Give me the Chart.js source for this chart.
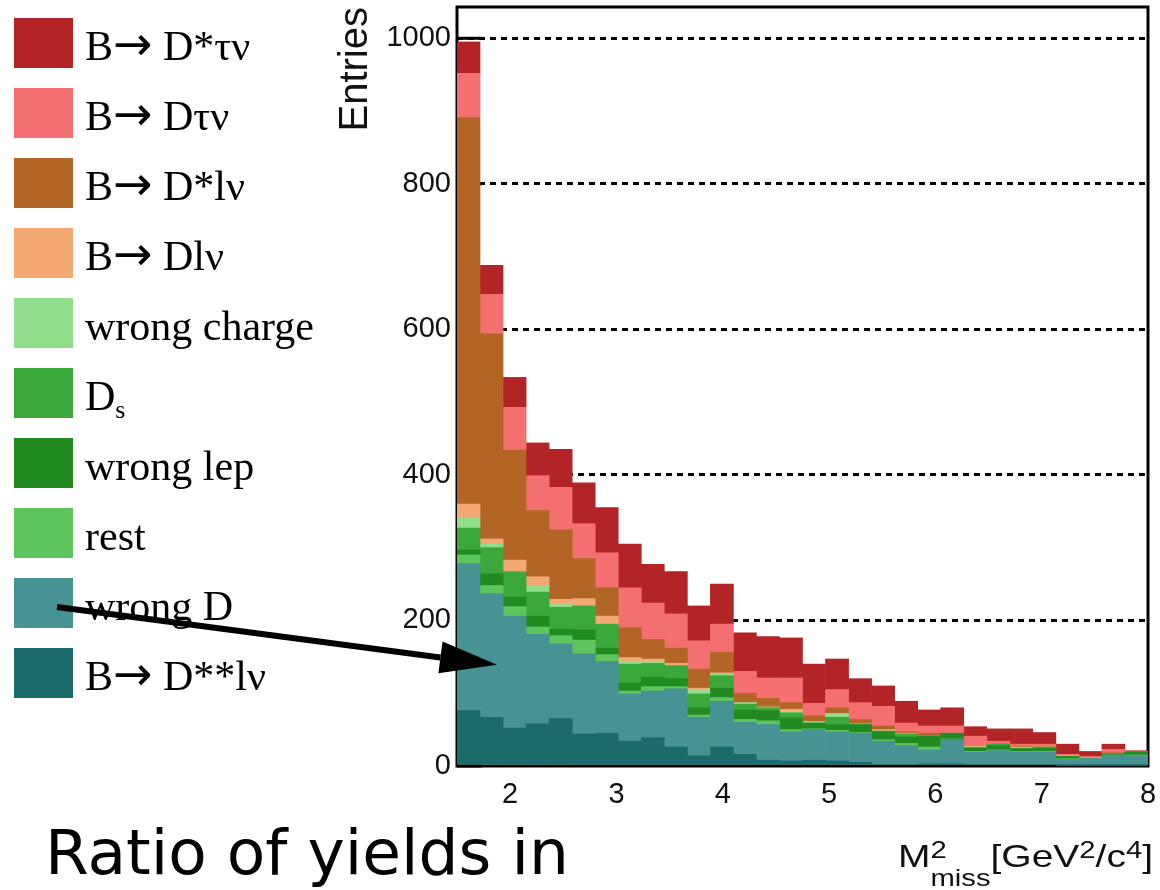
<!DOCTYPE html>
<html>
<head>
<meta charset="utf-8">
<script src="https://cdn.jsdelivr.net/npm/chart.js@4.4.1/dist/chart.umd.min.js"></script>
<style>
body { margin: 0; background: #fff; }
</style>
</head>
<body>
<canvas id="canvas" width="1160" height="890"></canvas>
<script>
// M2miss histogram, 30 bins between 1.5 and 8 GeV2/c4 (bin centres)
const binCenters = [1.6083, 1.8250, 2.0417, 2.2583, 2.4750, 2.6917, 2.9083, 3.1250, 3.3417, 3.5583,
                    3.7750, 3.9917, 4.2083, 4.4250, 4.6417, 4.8583, 5.0750, 5.2917, 5.5083, 5.7250,
                    5.9417, 6.1583, 6.3750, 6.5917, 6.8083, 7.0250, 7.2417, 7.4583, 7.6750, 7.8917];
const xTicks = [2, 3, 4, 5, 6, 7, 8];
const yTicks = [0, 200, 400, 600, 800, 1000];

// entries per bin, one array per component (bottom of the stack first)
const dssLnu      = [76, 67, 52, 58, 65, 44, 45, 34, 39, 26, 14, 26, 16, 8, 7, 8, 7, 5, 2, 2, 3, 3, 2, 2, 2, 2, 1, 1, 1, 1];
const wrongD      = [202, 170, 154, 123, 103, 110, 99, 65, 64, 80, 53, 63, 44, 49, 40, 42, 40, 40, 32, 26, 19, 34, 17, 19, 17, 17, 8, 9, 14, 13];
const rest        = [12, 11, 13, 10, 11, 19, 9, 4, 6, 3, 3, 5, 4, 5, 3, 1, 2, 1, 2, 3, 4, 0, 1, 1, 1, 1, 1, 0, 0, 1];
const wrongLep    = [7, 16, 13, 15, 9, 14, 9, 11, 13, 11, 10, 13, 13, 14, 16, 8, 8, 11, 11, 9, 15, 8, 5, 6, 4, 5, 3, 0, 1, 4];
const ds          = [30, 36, 35, 33, 30, 33, 33, 26, 19, 18, 19, 17, 8, 4, 7, 0, 10, 0, 1, 4, 0, 0, 0, 2, 0, 0, 0, 0, 0, 0];
const wrongCharge = [14, 5, 0, 9, 4, 0, 0, 4, 2, 0, 6, 3, 2, 1, 2, 2, 5, 0, 0, 0, 0, 0, 1, 0, 1, 1, 1, 1, 0, 0];
const dLnu        = [19, 7, 16, 12, 7, 10, 11, 5, 4, 3, 2, 1, 0, 0, 3, 0, 0, 1, 2, 1, 0, 0, 1, 0, 1, 0, 0, 0, 0, 0];
const dstLnu      = [531, 282, 151, 91, 96, 55, 39, 41, 27, 21, 26, 28, 13, 12, 9, 8, 8, 6, 5, 2, 4, 0, 0, 1, 1, 1, 0, 0, 2, 0];
const dTauNu      = [61, 54, 59, 48, 58, 48, 48, 55, 50, 47, 39, 39, 30, 28, 34, 17, 25, 23, 27, 12, 10, 10, 14, 3, 3, 3, 2, 2, 5, 0];
const dstTauNu    = [43, 40, 41, 45, 52, 56, 62, 60, 53, 58, 48, 55, 53, 57, 55, 54, 42, 33, 28, 30, 22, 25, 13, 17, 21, 16, 14, 7, 7, 2];

const components = [
    {label: 'B\u2192 D**l\u03bd', color: '#1a6b6a', data: dssLnu},
    {label: 'wrong D', color: '#479292', data: wrongD},
    {label: 'rest', color: '#5ec55e', data: rest},
    {label: 'wrong lep', color: '#218b21', data: wrongLep},
    {label: 'D_{s}', color: '#3aa83a', data: ds},
    {label: 'wrong charge', color: '#90dd8c', data: wrongCharge},
    {label: 'B\u2192 Dl\u03bd', color: '#f4a972', data: dLnu},
    {label: 'B\u2192 D*l\u03bd', color: '#b36526', data: dstLnu},
    {label: 'B\u2192 D\u03c4\u03bd', color: '#f47070', data: dTauNu},
    {label: 'B\u2192 D*\u03c4\u03bd', color: '#b22426', data: dstTauNu}
];

// split "M^{2}_{miss}" style strings into plain / super / sub pieces,
// the arrow gets its own piece so it can use a font with a long arrow
function latexParts(text){
    var parts = [];
    var re = /([_^])\{([^}]*)\}|(\u2192)|([^_^\u2192]+)/g;
    var m;
    while ((m = re.exec(text)) !== null){
        if (m[3] !== undefined) parts.push({t: m[3], k: 'arrow'});
        else if (m[4] !== undefined) parts.push({t: m[4], k: ''});
        else parts.push({t: m[2], k: m[1]});
    }
    return parts;
}

function drawLatex(ctx, text, x, y, o){
    var parts = latexParts(text);
    var items = [];
    var w = 0;
    for (var p of parts){
        var size = o.size;
        var family = o.family;
        if (p.k == '_') size = o.size * o.subScale;
        if (p.k == '^') size = o.size * o.supScale;
        if (p.k == 'arrow'){
            family = 'DejaVu Sans';
            size = o.size * 1.12;
        }
        ctx.font = size + 'px "' + family + '"';
        var pw = ctx.measureText(p.t).width;
        var dy = 0;
        if (p.k == '_') dy = o.drop * o.size;
        if (p.k == '^') dy = -o.raise * o.size;
        var prev = items[items.length - 1];
        if (p.k == '_' && prev && prev.k == '^'){
            // subscript stacked under the superscript before it
            items.push({t: p.t, k: p.k, size: size, family: family, x: prev.x, dy: dy});
            w = Math.max(w, prev.x + pw);
        } else {
            items.push({t: p.t, k: p.k, size: size, family: family, x: w, dy: dy});
            w += pw;
        }
    }
    var stretch = o.width ? o.width / w : 1;
    var x0 = o.align == 'right' ? x - w * stretch : x;
    ctx.save();
    ctx.translate(x0, y);
    ctx.scale(stretch, 1);
    ctx.textAlign = 'left';
    ctx.textBaseline = 'alphabetic';
    for (var it of items){
        ctx.font = it.size + 'px "' + it.family + '"';
        ctx.fillText(it.t, it.x, it.dy);
    }
    ctx.restore();
}

// frame and inner tick marks, underneath the histogram
const framePlugin = {
    id: 'frame',
    beforeDatasetsDraw(chart){
        const ctx = chart.ctx;
        const a = chart.chartArea;
        const y = chart.scales.y;
        ctx.save();
        ctx.strokeStyle = '#000';
        ctx.lineWidth = 3;
        ctx.strokeRect(a.left, a.top, a.right - a.left, a.bottom - a.top);
        for (const v of yTicks){
            const py = y.getPixelForValue(v);
            ctx.beginPath();
            ctx.moveTo(a.left, py);
            ctx.lineTo(a.left + 25, py);
            ctx.stroke();
        }
        ctx.restore();
    }
};

// legend on the left, arrow, axis title and caption
const annotPlugin = {
    id: 'annot',
    afterDraw(chart){
        const ctx = chart.ctx;
        const sets = chart.data.datasets.slice().reverse();
        ctx.save();
        sets.forEach((d, k) => {
            const top = 18 + 70 * k;
            ctx.fillStyle = d.backgroundColor;
            ctx.fillRect(14, top, 59, 50);
            ctx.fillStyle = '#000';
            drawLatex(ctx, d.label, 85, top + 42, {size: 42, family: 'Liberation Serif', subScale: 0.62, supScale: 0.62, drop: 0.2, raise: 0.4});
        });

        // arrow from the "wrong D" box into the histogram
        const k = sets.findIndex(d => d.label == 'wrong D');
        const sx = 57, sy = 18 + 70 * k + 29;
        const tx = chart.scales.x.getPixelForValue(1.876);
        const ty = chart.scales.y.getPixelForValue(139);
        const len = Math.hypot(tx - sx, ty - sy);
        const ux = (tx - sx) / len, uy = (ty - sy) / len;
        const bx = tx - 57 * ux, by = ty - 57 * uy;
        ctx.strokeStyle = '#000';
        ctx.fillStyle = '#000';
        ctx.lineWidth = 6;
        ctx.beginPath();
        ctx.moveTo(sx, sy);
        ctx.lineTo(bx, by);
        ctx.stroke();
        ctx.beginPath();
        ctx.moveTo(tx, ty);
        ctx.lineTo(bx - 16 * uy, by + 16 * ux);
        ctx.lineTo(bx + 16 * uy, by - 16 * ux);
        ctx.closePath();
        ctx.fill();

        ctx.fillStyle = '#111';
        drawLatex(ctx, 'M^{2}_{miss}[GeV^{2}/c^{4}]', 1153, 867, {size: 32, family: 'Liberation Sans', subScale: 0.75, supScale: 0.75, drop: 0.6, raise: 0.28, align: 'right', width: 255});

        ctx.fillStyle = '#000';
        ctx.font = '63px "DejaVu Sans"';
        ctx.textAlign = 'left';
        ctx.textBaseline = 'alphabetic';
        ctx.fillText('Ratio of yields in', 45, 874);
        ctx.restore();
    }
};

var datasetList = [];
for (var c of components){
    datasetList.push({
        label: c.label,
        backgroundColor: c.color,
        borderWidth: 0,
        data: c.data.map((v, i) => ({x: binCenters[i], y: v}))
    });
}

var chart = new Chart(document.getElementById('canvas'), {
    type: 'bar',
    data: {datasets: datasetList},
    options: {
        responsive: false,
        animation: false,
        layout: {padding: {left: 330, top: 7, right: 12, bottom: 64}},
        datasets: {bar: {categoryPercentage: 1, barPercentage: 1}},
        plugins: {legend: {display: false}, tooltip: {enabled: false}},
        scales: {
            x: {
                type: 'linear',
                stacked: true,
                min: 1.5,
                max: 8,
                offset: false,
                grid: {display: false, offset: false},
                border: {display: false},
                afterBuildTicks: s => { s.ticks = xTicks.map(v => ({value: v})); },
                afterFit: s => { s.height = 60; s.paddingLeft = 0; s.paddingRight = 0; },
                ticks: {padding: 4, maxRotation: 0, color: '#111', font: {family: 'Liberation Sans', size: 29}}
            },
            y: {
                stacked: true,
                min: 0,
                max: 1043,
                afterBuildTicks: s => { s.ticks = yTicks.map(v => ({value: v})); },
                afterFit: s => { s.width = 127; s.paddingTop = 0; s.paddingBottom = 0; },
                grid: {
                    color: c => c.tick && c.tick.value === 0 ? 'rgba(0,0,0,0)' : '#000',
                    lineWidth: 3,
                    drawTicks: false
                },
                border: {display: false, dash: [6, 5]},
                ticks: {padding: 6, color: '#111', font: {family: 'Liberation Sans', size: 29}, callback: v => String(v)},
                title: {
                    display: true,
                    text: 'Entries',
                    align: 'end',
                    color: '#111',
                    padding: {top: 2, bottom: 0},
                    font: {family: 'Liberation Sans', size: 40}
                }
            }
        }
    },
    plugins: [framePlugin, annotPlugin]
});
</script>
</body>
</html>
